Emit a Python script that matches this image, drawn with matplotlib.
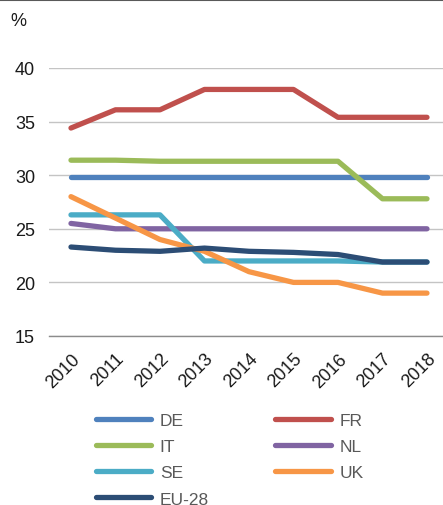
import matplotlib.pyplot as plt
from matplotlib.lines import Line2D

plt.rcParams['font.family'] = ['Liberation Sans', 'DejaVu Sans']

years = ["2010", "2011", "2012", "2013", "2014", "2015", "2016", "2017", "2018"]
de = [29.8, 29.8, 29.8, 29.8, 29.8, 29.8, 29.8, 29.8, 29.8]
fr = [34.4, 36.1, 36.1, 38.0, 38.0, 38.0, 35.4, 35.4, 35.4]
it = [31.4, 31.4, 31.3, 31.3, 31.3, 31.3, 31.3, 27.8, 27.8]
nl = [25.5, 25.0, 25.0, 25.0, 25.0, 25.0, 25.0, 25.0, 25.0]
se = [26.3, 26.3, 26.3, 22.0, 22.0, 22.0, 22.0, 21.9, 21.9]
uk = [28.0, 26.0, 24.0, 22.9, 21.0, 20.0, 20.0, 19.0, 19.0]
eu28 = [23.3, 23.0, 22.9, 23.2, 22.9, 22.8, 22.6, 21.9, 21.9]

series = [
    ("DE", de, "#4f81bd"),
    ("FR", fr, "#c0504d"),
    ("IT", it, "#9bbb59"),
    ("NL", nl, "#8064a2"),
    ("SE", se, "#4bacc6"),
    ("UK", uk, "#f79646"),
    ("EU-28", eu28, "#2c4d75"),
]

fig = plt.figure(figsize=(4.43, 5.06), dpi=100)
ax = fig.add_axes([49 / 443, 1 - 337 / 506, 394 / 443, 268 / 506])

x = list(range(len(years)))
handles = {}
for name, vals, col in series:
    ln, = ax.plot(x, vals, color=col, lw=3.8, solid_capstyle='round',
                  solid_joinstyle='round', label=name)
    handles[name] = ln

ax.set_xlim(-0.494, 8.36)
ax.set_ylim(15, 40)
ax.set_yticks([20, 25, 30, 35, 40])
ax.set_yticks([15, 20, 25, 30, 35, 40])
ax.set_xticks(x)
ax.set_xticklabels(years, rotation=45, ha='right', rotation_mode='anchor')
ax.tick_params(axis='both', length=0, labelsize=13, colors='#1a1a1a')
ax.tick_params(axis='y', pad=10)
ax.tick_params(axis='x', pad=10)
ax.grid(axis='y', color='#c4c4c4', lw=1)
ax.set_axisbelow(True)
for s in ax.spines.values():
    s.set_visible(False)
ax.spines['bottom'].set_visible(True)
ax.spines['bottom'].set_color('#8c8c8c')
ax.spines['bottom'].set_linewidth(1)

fig.text(10 / 443, 1 - 22 / 506, "%", fontsize=13, va='center', ha='left', color='#1a1a1a')

# thin rule across the top
fig.add_artist(Line2D([0, 1], [0.999, 0.999], color='#595959', lw=1.5,
                      transform=fig.transFigure))

order = ["DE", "IT", "SE", "EU-28", "FR", "NL", "UK"]
leg = fig.legend([handles[n] for n in order], order, ncol=2, frameon=False,
                 loc='upper left', bbox_to_anchor=(80 / 443, 1 - 398 / 506),
                 fontsize=12.5, handlelength=3.2, handletextpad=0.5,
                 columnspacing=3.8, labelspacing=0.64, labelcolor='#595959')
for l in leg.get_lines():
    l.set_solid_capstyle('round')

fig.savefig("out.png", dpi=100)
